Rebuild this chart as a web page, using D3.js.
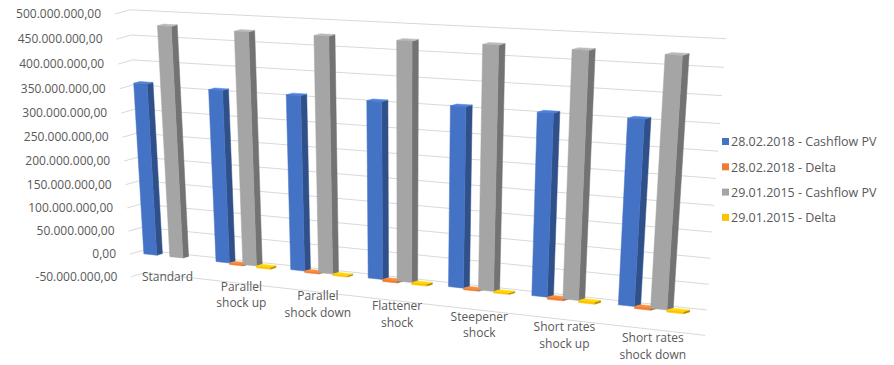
<!DOCTYPE html>
<html>
<head>
<meta charset="utf-8">
<script src="https://cdn.jsdelivr.net/npm/d3@7"></script>
<style>
  body { margin: 0; background: #ffffff; }
  text { font-family: "Open Sans", "Liberation Sans", sans-serif; fill: #595959; }
</style>
</head>
<body>
<svg id="chart" width="894" height="365"></svg>
<script>
// ---- data ----
const categories = ["Standard", "Parallel shock up", "Parallel shock down", "Flattener shock",
                    "Steepener shock", "Short rates shock up", "Short rates shock down"];
const seriesNames = ["28.02.2018 - Cashflow PV", "28.02.2018 - Delta",
                     "29.01.2015 - Cashflow PV", "29.01.2015 - Delta"];
const cashflow2018 = [360e6, 357e6, 357e6, 356e6, 357e6, 356e6, 356e6];
const delta2018    = [0, -3e6, -3e6, -4e6, -3e6, -4e6, -4e6];
const cashflow2015 = [478e6, 475e6, 475e6, 474e6, 475e6, 474e6, 474e6];
const delta2015    = [0, -4e6, -3e6, -4e6, -3e6, -4e6, -4e6];
const valueTicks   = [-50e6, 0, 50e6, 100e6, 150e6, 200e6, 250e6, 300e6, 350e6, 400e6, 450e6, 500e6];
const seriesColors = ["#4472C4", "#ED7D31", "#A5A5A5", "#FFC000"];

const seriesValues = [cashflow2018, delta2018, cashflow2015, delta2015];

// ---- perspective frame ----
// Screen anchors of the floor origin (first category, value 0, front) and of the three
// axis ends, each with a homogeneous weight that produces the foreshortening.
const frame = {
  o:  [130, 254],
  ex: [691, 314.5], wx: 0.88,   // end of category axis
  ey: [115, 14],    wy: 0.948,  // value axis at 500M
  ez: [144, 250],   wz: 1.0     // back wall
};
function project(sx, sy, sz) {
  const f = frame;
  const a = 1 - sx - sy - sz, ax = sx * f.wx, ay = sy * f.wy, az = sz * f.wz;
  const den = a + ax + ay + az;
  return [(a * f.o[0] + ax * f.ex[0] + ay * f.ey[0] + az * f.ez[0]) / den,
          (a * f.o[1] + ax * f.ex[1] + ay * f.ey[1] + az * f.ez[1]) / den];
}

// ---- scales ----
const x = d3.scaleBand().domain(categories).range([0, 1]);
const xs = d3.scaleBand().domain(seriesNames).range([0, x.bandwidth()]).paddingOuter(0.75);
const y = d3.scaleLinear().domain([0, 500e6]).range([0, 1]);
const barZ = [0.3, 0.7];

const fmt = d3.formatLocale({ decimal: ",", thousands: ".", grouping: [3], currency: ["", ""], minus: "-" }).format(",.2f");

const svg = d3.select("#chart");
const line = d3.line();

// ---- walls: gridlines on side wall and back wall ----
const grid = svg.append("g").attr("fill", "none").attr("stroke", "#d9d9d9").attr("stroke-width", 1);
valueTicks.forEach(t => {
  grid.append("path").attr("d", line([project(0, y(t), 0), project(0, y(t), 1), project(1, y(t), 1)]));
});

// value axis labels
const yLabels = svg.append("g").attr("font-size", 12);
valueTicks.forEach(t => {
  const p = project(0, y(t), 0);
  yLabels.append("text").attr("x", p[0] - 14).attr("y", p[1]).attr("dy", "0.35em")
    .attr("text-anchor", "end").text(fmt(t));
});

// ---- bars ----
const shade = (c, k) => d3.color(c).darker(k).formatHex();
const bars = [];
categories.forEach((cat, i) => {
  seriesNames.forEach((s, j) => {
    const v = seriesValues[j][i];
    if (v === 0) return;
    bars.push({ cat, s, j, v, x0: x(cat) + xs(s), x1: x(cat) + xs(s) + xs.bandwidth() });
  });
});
bars.sort((a, b) => a.x0 - b.x0);   // right side is nearer: draw left to right

const gBars = svg.append("g").attr("stroke-linejoin", "round");
bars.forEach(b => {
  const col = seriesColors[b.j];
  const lo = y(Math.min(0, b.v)), hi = y(Math.max(0, b.v));
  const [z0, z1] = barZ;
  const front = [[b.x0, lo, z0], [b.x1, lo, z0], [b.x1, hi, z0], [b.x0, hi, z0]];
  const right = [[b.x1, lo, z0], [b.x1, lo, z1], [b.x1, hi, z1], [b.x1, hi, z0]];
  const top   = [[b.x0, hi, z0], [b.x1, hi, z0], [b.x1, hi, z1], [b.x0, hi, z1]];
  const face = (pts, fill) => gBars.append("path")
    .attr("d", line(pts.map(p => project(...p))) + "Z")
    .attr("fill", fill).attr("stroke", fill).attr("stroke-width", 0.5);
  face(right, shade(col, 1.0));
  face(top, d3.color(col).brighter(0.35).formatHex());
  face(front, col);
});

// ---- category labels ----
const catLabels = svg.append("g").attr("font-size", 12).attr("text-anchor", "middle");
categories.forEach(cat => {
  const sx = x(cat) + x.bandwidth() / 2;
  const p = project(sx, y(-50e6), 0);
  const lx = p[0] + 9 * sx, ly = p[1] - 4 + 8 * sx;
  const t = catLabels.append("text").attr("x", lx).attr("y", ly);
  // wrap words into lines no wider than the category slot
  const words = cat.split(" ");
  let lines = [], cur = [];
  words.forEach(w => {
    cur.push(w);
    const probe = svg.append("text").attr("font-size", 12).text(cur.join(" "));
    const wd = probe.node().getComputedTextLength();
    probe.remove();
    if (wd > 76 && cur.length > 1) { cur.pop(); lines.push(cur.join(" ")); cur = [w]; }
  });
  lines.push(cur.join(" "));
  lines.forEach((l, k) => t.append("tspan").attr("x", lx).attr("dy", k === 0 ? "0.35em" : 16.5).text(l));
});

// ---- legend ----
const legend = svg.append("g").attr("font-size", 12.5);
seriesNames.forEach((s, j) => {
  const ly = 142 + j * 25.3;
  legend.append("rect").attr("x", 722).attr("y", ly - 4).attr("width", 7).attr("height", 7).attr("fill", seriesColors[j]);
  legend.append("text").attr("x", 731).attr("y", ly).attr("dy", "0.35em").text(s);
});
</script>
</body>
</html>
